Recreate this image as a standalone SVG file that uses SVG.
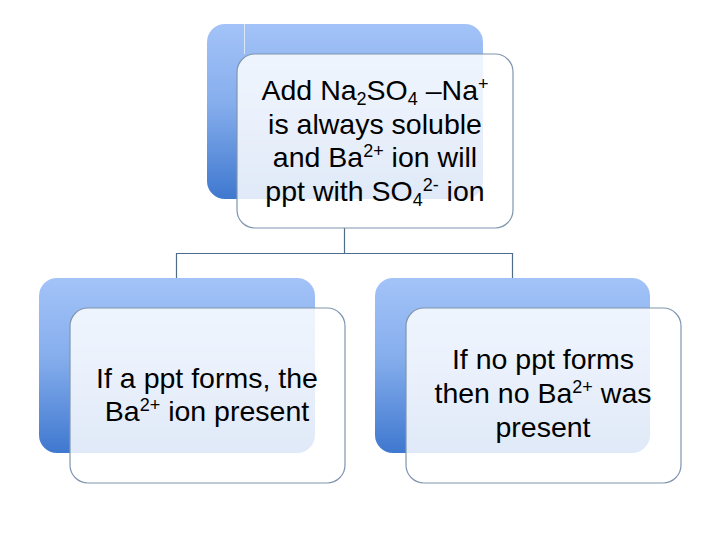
<svg xmlns="http://www.w3.org/2000/svg" width="720" height="540" viewBox="0 0 720 540">
<defs>
<linearGradient id="bg" x1="0" y1="0" x2="0" y2="1">
<stop offset="0" stop-color="#a3c3f8"/>
<stop offset="0.45" stop-color="#86aeed"/>
<stop offset="1" stop-color="#3f78cf"/>
</linearGradient>
<style>
.back{fill:url(#bg);}
.front{fill:#ffffff;fill-opacity:0.84;stroke:#7f96ae;stroke-width:1.2;}
.conn{fill:none;stroke:#4f6b8a;stroke-width:1.2;}
.t{font-family:"Liberation Sans","Open Sans",sans-serif;font-size:28.5px;fill:#000;text-anchor:middle;}
.sup{font-size:18px;}
</style>
</defs>
<rect width="720" height="540" fill="#ffffff"/>
<g id="connectors">
<path class="conn" d="M344.5 228 V253.5 H176.5 V278 M344.5 253.5 H512.5 V278"/>
</g>
<g id="node-top">
<rect class="back" x="207" y="24" width="276" height="175" rx="18"/>
<line x1="244.5" y1="24" x2="244.5" y2="54" stroke="#dbe6f7" stroke-width="1"/>
<rect class="front" x="237" y="54" width="276" height="174" rx="18"/>
<text class="t" x="375" y="100">Add Na<tspan class="sup" dy="5">2</tspan><tspan dy="-5">SO</tspan><tspan class="sup" dy="5">4</tspan><tspan dy="-5"> –Na</tspan><tspan class="sup" dy="-10">+</tspan></text>
<text class="t" x="375" y="134">is always soluble</text>
<text class="t" x="375" y="167">and Ba<tspan class="sup" dy="-10">2+</tspan><tspan dy="10"> ion will</tspan></text>
<text class="t" x="375" y="201">ppt with SO<tspan class="sup" dy="5">4</tspan><tspan class="sup" dy="-15">2-</tspan><tspan dy="10"> ion</tspan></text>
</g>
<g id="node-left">
<rect class="back" x="39" y="278" width="276" height="175" rx="18"/>
<rect class="front" x="70" y="308" width="275" height="175" rx="18"/>
<text class="t" x="207" y="388">If a ppt forms, the</text>
<text class="t" x="207" y="421">Ba<tspan class="sup" dy="-10">2+</tspan><tspan dy="10"> ion present</tspan></text>
</g>
<g id="node-right">
<rect class="back" x="375" y="278" width="275" height="175" rx="18"/>
<rect class="front" x="406" y="308" width="275" height="175" rx="18"/>
<text class="t" x="543" y="369">If no ppt forms</text>
<text class="t" x="543" y="403">then no Ba<tspan class="sup" dy="-10">2+</tspan><tspan dy="10"> was</tspan></text>
<text class="t" x="543" y="437">present</text>
</g>
</svg>
